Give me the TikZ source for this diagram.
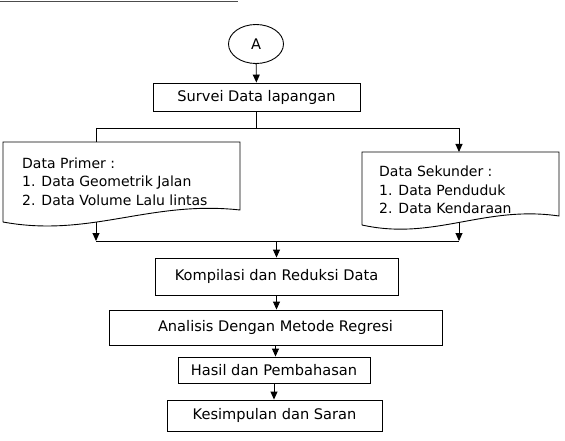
\documentclass[tikz,border=0pt]{standalone}
\usepackage{fontspec}
\setmainfont{DejaVu Sans}
\usetikzlibrary{arrows.meta,shapes.geometric}
\begin{document}
\begin{tikzpicture}[x=1pt,y=-1pt,
 every node/.style={font=\fontsize{14}{18.4}\selectfont},
 box/.style={draw, line width=0.9pt, rectangle, inner sep=0pt, font=\fontsize{14.6}{18}\selectfont},
 arr/.style={-{Triangle[length=8pt,width=7pt]}, line width=0.9pt},
 ln/.style={line width=0.9pt},
 doc/.style={draw, line width=0.9pt},
 txt/.style={align=left, anchor=west, inner sep=0pt}]
\useasboundingbox (0,0) rectangle (565,441);
% top rule
\draw[line width=1.2pt, black!70] (0,1.5) coordinate (tl0) -- (238,1.5) coordinate (tl1);
% start connector
\node[draw, ellipse, minimum width=55pt, minimum height=39pt, inner sep=0pt, line width=0.9pt, font=\fontsize{14.6}{18}\selectfont] (A) at (256,44) {A};
\node[box, minimum width=207pt, minimum height=28pt] (survei) at (256.5,97) {Survei Data lapangan};
% document shapes
\coordinate (p1) at (3,142); \coordinate (p2) at (240,142); \coordinate (p3) at (240,210); \coordinate (p4) at (3,222);
\draw[doc] (p4) -- (p1) -- (p2) -- (p3) .. controls (150,200) and (90,238) .. (p4);
\node[txt] (primer) at (22,181.5) {Data Primer :\\1. Data Geometrik Jalan\\2. Data Volume Lalu lintas};
\coordinate (s1) at (362,152); \coordinate (s2) at (559,152); \coordinate (s3) at (559,216); \coordinate (s4) at (362,225);
\draw[doc] (s4) -- (s1) -- (s2) -- (s3) .. controls (484,205) and (434,241) .. (s4);
\node[txt] (sekunder) at (379,190) {Data Sekunder :\\1. Data Penduduk\\2. Data Kendaraan};
% branch
\coordinate (sb) at (256.5,128);
\coordinate (bl) at (96,128);
\coordinate (br) at (459,128);
\coordinate (pt) at (96,142);
\coordinate (st) at (459,152);
\coordinate (pb) at (96,222);
\coordinate (sbot) at (459,223);
\coordinate (m1) at (96,241);
\coordinate (m2) at (459,241);
% lower boxes
\node[box, minimum width=243pt, minimum height=37pt] (komp) at (276.5,276.5) {Kompilasi dan Reduksi Data};
\node[box, minimum width=333pt, minimum height=35pt] (anal) at (275.5,327.5) {Analisis Dengan Metode Regresi};
\node[box, minimum width=192pt, minimum height=26pt] (hasil) at (274,370) {Hasil dan Pembahasan};
\node[box, minimum width=215pt, minimum height=31pt] (kes) at (274.5,415.5) {Kesimpulan dan Saran};
\coordinate (mk) at (komp.north |- m1);
% connectors
\draw[arr] (A) -- (survei);
\draw[ln] (survei.south) -- (sb);
\draw[ln] (bl) -- (br);
\draw[ln] (bl) -- (pt);
\draw[arr] (br) -- (st);
\draw[arr] (pb) -- (m1);
\draw[arr] (sbot) -- (m2);
\draw[ln] (m1) -- (m2);
\draw[arr] (mk) -- (komp.north);
\draw[arr] (komp.south) -- (komp.south |- anal.north);
\draw[arr] (anal.south) -- (anal.south |- hasil.north);
\draw[arr] (hasil.south) -- (hasil.south |- kes.north);
\end{tikzpicture}
\end{document}
